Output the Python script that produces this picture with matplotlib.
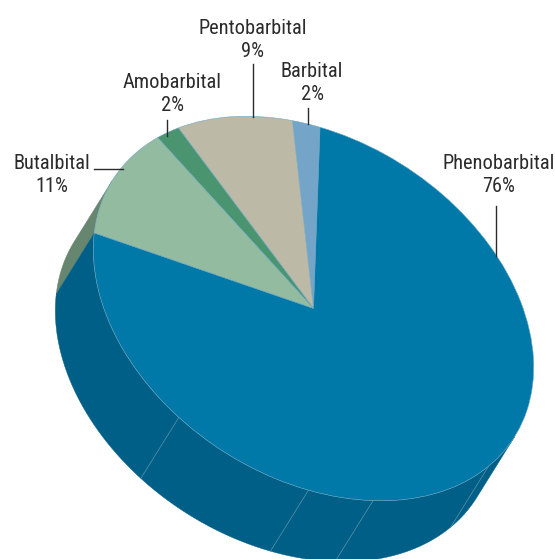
#!/usr/bin/env python

import numpy as np
import matplotlib
matplotlib.use('Agg')
import matplotlib.pyplot as plt
from matplotlib.patches import Polygon
from matplotlib.transforms import Affine2D

#------------------------------------------------------------------------------
# data, counter-clockwise from the top of the pie
#------------------------------------------------------------------------------
drugs = ['Barbital', 'Pentobarbital', 'Amobarbital', 'Butalbital', 'Phenobarbital']
percent = [2, 9, 2, 11, 76]

top_colors = ['#74a5c8', '#bcbaa6', '#4a9470', '#93bba0', '#0078a8']
side_colors = ['#517d9c', '#8f8e7c', '#35705a', '#67866f', '#005f87']

#------------------------------------------------------------------------------
# layout, everything in image pixels
#------------------------------------------------------------------------------
start_angle = 113.0
depth = np.array([-38, 61])
seam_angles = [257, 293.4, 310.4, 347.4]

# label centre, then leader line
label_xy = [(312, 83), (253, 40), (172, 94), (52, 175), (499, 175)]
leader_x = [(308, 308), (253, 253), (167, 167), (94, 123), (496, 496)]
leader_y = [(108, 124), (64, 117), (120, 136), (169, 169), (206, 256)]

fig = plt.figure(figsize=(5.55, 5.59), dpi=100)
ax = fig.add_axes([0, 0, 1, 1])

wedges, _ = ax.pie(percent, colors=top_colors, startangle=start_angle,
                   wedgeprops=dict(edgecolor='#6fa8c4', linewidth=0.4, zorder=3))

ax.set_aspect('auto')
ax.set_xlim(0, 555)
ax.set_ylim(559, 0)
ax.axis('off')

# unit circle -> tilted ellipse on the image
tilt = Affine2D().scale(238.5, -169).rotate_deg(33).translate(313.5, 308.5)
for w in wedges:
    w.set_transform(tilt + ax.transData)


def rim(deg):
    """points on the top rim for angles in degrees"""
    t = np.radians(deg)
    return tilt.transform(np.column_stack([np.cos(t), np.sin(t)]))


# the wall only shows between the two tangents of the extrusion direction
v = np.linalg.inv(tilt.get_matrix()[:2, :2]) @ depth
tangent = np.degrees(np.arctan2(v[1], v[0]))
vis_lo = tangent - 90
vis_hi = tangent + 90
while vis_lo < start_angle:
    vis_lo += 360
    vis_hi += 360

for w, color in zip(wedges, side_colors):
    lo = max(w.theta1, vis_lo)
    hi = min(w.theta2, vis_hi)
    if hi <= lo:
        continue
    arc = rim(np.linspace(lo, hi, 200))
    ax.add_patch(Polygon(np.vstack([arc, arc[::-1] + depth]), closed=True,
                         facecolor=color, edgecolor=color, linewidth=0.3,
                         zorder=1))

# thin seams on the wall
for deg in seam_angles:
    p = rim(np.array([deg]))[0]
    ax.plot([p[0], p[0] + depth[0]], [p[1], p[1] + depth[1]],
            color='#5a94ae', linewidth=0.5, zorder=2)

# labels
for name, pct, xy, lx, ly in zip(drugs, percent, label_xy, leader_x, leader_y):
    ax.text(xy[0], xy[1], '{}\n{}%'.format(name, pct), ha='center', va='center',
            family=['Roboto Condensed', 'Liberation Sans Narrow', 'Roboto'],
            fontsize=14.7, color='#2b2b2b', linespacing=1.22, zorder=5)
    ax.plot(lx, ly, color='#2b2b2b', linewidth=1, zorder=4)

fig.savefig('out.png', dpi=100)
